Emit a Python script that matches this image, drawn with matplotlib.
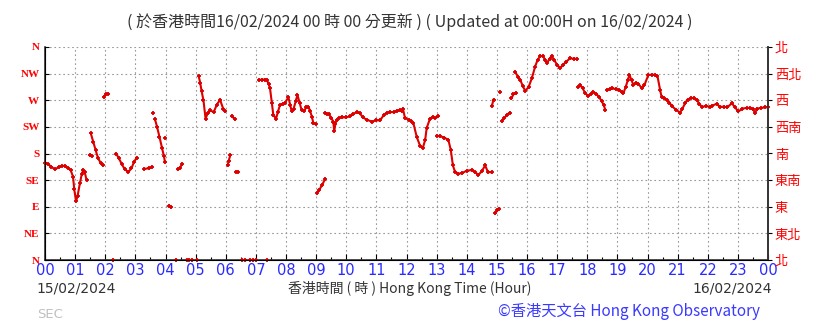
import numpy as np
import matplotlib
matplotlib.use('Agg')
import matplotlib.pyplot as plt

nan = np.nan

# wind direction readings (hour of day, degrees); nan breaks the trace
hours = [
    0.00, 0.10, 0.20, 0.33, 0.45, 0.55, 0.65, 0.75, 0.85, 0.93, 0.97, 1.03, 1.08, 1.16, 1.22, 1.27, 1.32, 1.38, nan,
    1.48, 1.55, nan,
    1.52, 1.60, 1.68, 1.76, 1.85, 1.92, nan,
    1.95, 2.02, 2.10, nan,
    2.25, nan,
    2.36, 2.45, 2.55, 2.65, 2.77, 2.87, 2.95, 3.04, nan,
    3.30, 3.45, 3.55, nan,
    3.60, nan,
    3.65, 3.72, 3.80, 3.88, 3.95, 3.98, nan,
    3.99, nan,
    4.12, 4.18, nan,
    4.35, nan,
    4.40, 4.47, 4.55, nan,
    4.70, 4.78, 4.87, nan,
    5.04, nan,
    5.10, 5.15, 5.20, 5.26, 5.33, 5.40, 5.48, 5.60, 5.70, 5.81, 5.92, 5.98, nan,
    6.20, 6.30, nan,
    6.06, 6.10, 6.15, nan,
    6.33, 6.40, nan,
    6.55, 6.65, nan,
    6.80, 6.90, 7.00, nan,
    7.36, nan,
    7.10, 7.20, 7.30, 7.36, 7.42, 7.47, 7.53, 7.58, 7.67, 7.73, 7.80, 7.90, 7.97, 8.08, 8.14, 8.19, 8.25, 8.32,
    8.38, 8.45, 8.52, 8.60, 8.67, 8.74, 8.80, 8.86, 8.91, 9.00, nan,
    9.02, 9.10, 9.20, 9.30, nan,
    9.30, 9.37, 9.42, 9.50, 9.57, 9.60, 9.64, 9.68, 9.76, 9.85, 10.00, 10.13, 10.24, 10.35, 10.45, 10.55, 10.68,
    10.85, 11.00, 11.12, 11.25, 11.35, 11.45, 11.57, 11.68, 11.79, 11.85, 11.88, 11.95, 12.07, 12.15, 12.23,
    12.34, 12.45, 12.54, 12.62, 12.67, 12.78, 12.88, 12.95, 13.06, nan,
    13.00, 13.12, 13.25, 13.39, 13.47, 13.54, 13.61, 13.72, 13.85, 14.00, 14.17, 14.28, 14.39, 14.50, 14.61,
    14.70, 14.83, nan,
    14.94, 15.02, 15.08, nan,
    14.83, 14.89, nan,
    15.12, nan,
    15.16, 15.25, 15.33, 15.42, nan,
    15.48, 15.55, 15.62, nan,
    15.60, 15.70, 15.78, 15.86, 15.94, 16.05, 16.16, 16.27, 16.35, 16.43, 16.53, 16.60, 16.66, 16.75, 16.82,
    16.90, 17.00, 17.10, 17.20, 17.30, 17.43, 17.55, 17.65, nan,
    17.70, 17.76, 17.85, 17.93, 18.04, 18.12, 18.20, 18.30, 18.40, 18.48, 18.55, 18.60, nan,
    18.65, 18.75, 18.82, 18.95, 19.05, 19.15, 19.20, 19.28, 19.35, 19.40, 19.47, 19.53, 19.62, 19.70, 19.81,
    19.90, 20.03, 20.15, 20.25, 20.33, 20.42, 20.47, 20.55, 20.65, 20.73, 20.81, 20.95, 21.08, 21.15, 21.25,
    21.33, 21.45, 21.55, 21.63, 21.72, 21.80, 21.95, 22.08, 22.15, 22.30, 22.40, 22.55, 22.65, 22.80, 22.90,
    23.02, 23.15, 23.30, 23.40, 23.50, 23.57, 23.65, 23.78, 23.90, 24.00,
]
direction = [
    164, 162, 158, 153, 157, 159, 159, 156, 152, 141, 120, 99, 108, 130, 145, 152, 148, 135, nan,
    177, 176, nan,
    214, 200, 186, 172, 164, 160, nan,
    276, 280, 281, nan,
    0, nan,
    180, 172, 162, 153, 149, 155, 165, 173, nan,
    154, 155, 157, nan,
    249, nan,
    238, 225, 208, 190, 175, 166, nan,
    206, nan,
    92, 89, nan,
    0, nan,
    153, 155, 162, nan,
    0, 0, 0, nan,
    0, nan,
    311, 300, 285, 270, 239, 248, 253, 250, 262, 271, 255, 251, nan,
    243, 238, nan,
    160, 168, 177, nan,
    149, 149, nan,
    0, 0, nan,
    0, 0, 0, nan,
    0, nan,
    304, 305, 305, 305, 298, 290, 265, 245, 239, 250, 262, 264, 266, 275, 262, 251, 255, 268,
    279, 266, 253, 252, 258, 259, 252, 242, 231, 230, nan,
    113, 118, 127, 137, nan,
    249, 246, 247, 240, 234, 218, 230, 237, 240, 241, 241, 243, 247, 250, 248, 241, 237,
    234, 236, 236, 245, 249, 250, 250, 252, 253, 251, 256, 240, 237, 235, 231,
    208, 193, 189, 203, 223, 239, 242, 240, 243, nan,
    210, 209, 207, 203, 186, 160, 149, 146, 147, 151, 152, 148, 144, 150, 160,
    149, 148, nan,
    79, 84, 86, nan,
    260, 271, nan,
    284, nan,
    235, 240, 245, 249, nan,
    273, 280, 282, nan,
    318, 310, 304, 294, 286, 292, 307, 327, 338, 344, 345, 338, 333, 340, 345,
    338, 330, 324, 330, 335, 341, 340, 340, nan,
    293, 296, 290, 282, 277, 281, 284, 281, 275, 268, 262, 253, nan,
    287, 289, 290, 289, 287, 284, 282, 293, 305, 313, 304, 296, 300, 298, 290,
    296, 313, 313, 313, 311, 287, 275, 273, 271, 266, 260, 254, 249, 255, 265,
    271, 274, 273, 271, 264, 259, 260, 259, 261, 264, 259, 259, 258, 265, 258,
    251, 256, 257, 257, 255, 249, 256, 257, 258, 258,
]

hour_labels = ['%02d' % (h % 24) for h in range(25)]
dir_ticks = [0, 45, 90, 135, 180, 225, 270, 315, 360]
dir_labels_en = ['N', 'NE', 'E', 'SE', 'S', 'SW', 'W', 'NW', 'N']
dir_labels_zh = ['北', '東北', '東', '東南', '南', '西南', '西', '西北', '北']

cjk = ['Noto Sans CJK TC', 'DejaVu Sans']
red = '#ff0000'
blue = '#2a2aff'

fig = plt.figure(figsize=(8.19, 3.23), dpi=100)
ax = fig.add_axes([45/819, 63/323, 723/819, 213/323])

ax.plot(hours, direction, color='#dd0000', lw=1.5, marker='+', ms=3.5, mew=1.3,
        clip_on=False, zorder=3)

ax.set_xlim(0, 24)
ax.set_ylim(0, 360)
ax.set_xticks(range(25))
ax.set_xticks(np.arange(0.5, 24, 1), minor=True)
ax.set_xticklabels(hour_labels, color=blue, fontsize=10.5, family='DejaVu Sans')
ax.set_yticks(dir_ticks)
ax.set_yticklabels(dir_labels_en, color=red, fontsize=8, family='Liberation Serif',
                   fontweight='bold')
ax.tick_params(axis='x', which='major', direction='in', length=4, pad=2, width=0.8)
ax.tick_params(axis='x', which='minor', direction='in', length=2.5, width=0.8)
ax.tick_params(axis='y', direction='in', length=3, pad=4, width=0.8)
ax.grid(True, color='#999999', linestyle=(0, (1.5, 2.5)), lw=0.8)
ax.spines['top'].set_visible(False)
for s in ['left', 'bottom', 'right']:
    ax.spines[s].set_color('#333333')
    ax.spines[s].set_linewidth(1.2)

ax2 = ax.twinx()
ax2.set_ylim(0, 360)
ax2.set_yticks(dir_ticks)
ax2.set_yticklabels(dir_labels_zh, color=red, fontsize=9.5, family=cjk)
ax2.tick_params(axis='y', direction='out', length=3, pad=2, width=0.8)
ax2.spines['top'].set_visible(False)
ax2.spines['right'].set_color('#333333')
ax2.spines['right'].set_linewidth(1.2)

fig.text(0.5, 0.932,
         '( 於香港時間16/02/2024 00 時 00 分更新 ) ( Updated at 00:00H on 16/02/2024 )',
         ha='center', va='center', fontsize=11.5, color='#333333', family=cjk)
fig.text(36/819, 1 - 288/323, '15/02/2024', ha='left', va='center', fontsize=10,
         color='#333333', family='DejaVu Sans')
fig.text(410/819, 1 - 288/323, '香港時間 ( 時 ) Hong Kong Time (Hour)', ha='center',
         va='center', fontsize=10, color='#333333', family=cjk)
fig.text(772/819, 1 - 288/323, '16/02/2024', ha='right', va='center', fontsize=10,
         color='#333333', family='DejaVu Sans')
fig.text(37/819, 1 - 315/323, 'SEC', ha='left', va='center', fontsize=9.5,
         color='#c0c0c0', family='DejaVu Sans')
fig.text(760/819, 1 - 311/323, '©香港天文台 Hong Kong Observatory', ha='right',
         va='center', fontsize=11, color='#3a3aff', family=cjk)

fig.savefig('out.png', dpi=100)
